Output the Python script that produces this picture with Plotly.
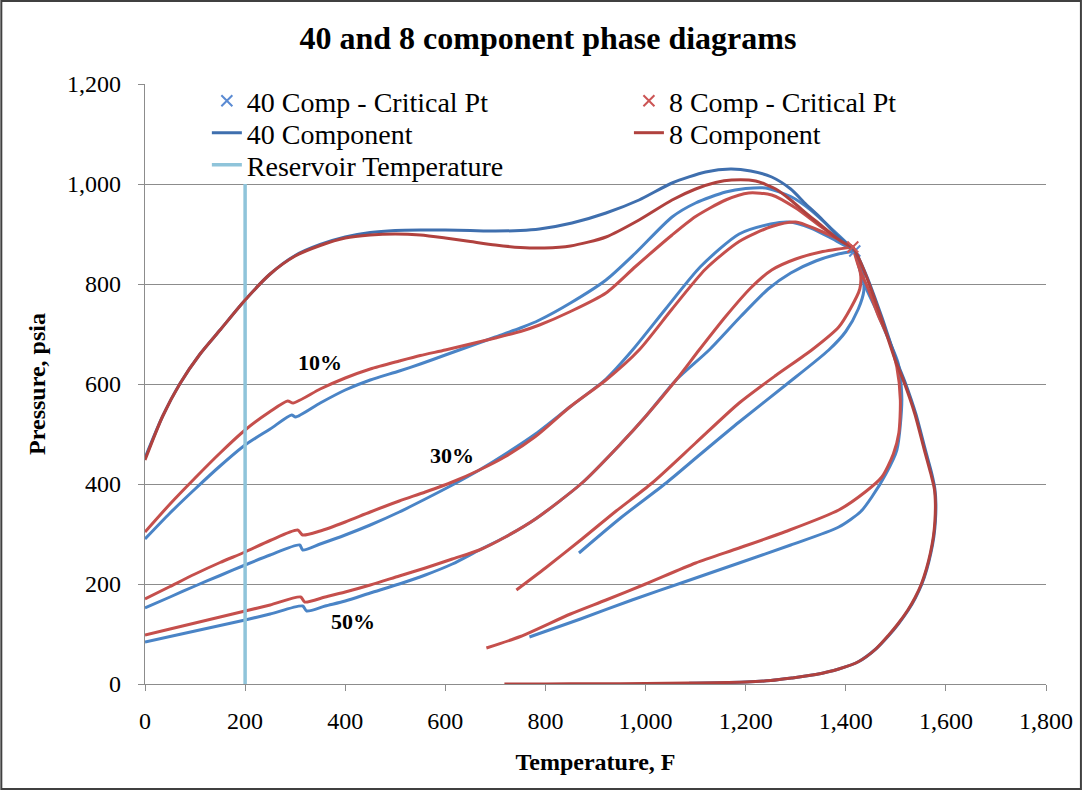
import plotly.graph_objects as go

# ---------------- data (Temperature F, Pressure psia) ----------------
# 40 component phase envelope (bubble + dew)
t40_env = [0, 35, 70, 110, 150, 200, 250, 300, 350, 400, 450, 500, 550, 600, 650, 700, 750, 788, 853,
           921, 987, 1053, 1120, 1170, 1210, 1252, 1290, 1320, 1350, 1380, 1400, 1418,
           1440, 1472, 1500, 1519, 1540, 1559, 1572, 1578, 1580, 1579, 1576, 1570, 1562, 1552, 1539, 1525,
           1505, 1486, 1460, 1426, 1386, 1340, 1292, 1250, 1200, 1150, 1087]
p40_env = [452, 535, 601, 660, 708, 768, 820, 857, 879, 894, 903, 907, 908, 908, 907, 906, 907, 910, 922,
           942, 968, 1002, 1024, 1030, 1026, 1014, 990, 960, 932, 900, 882, 866,
           820, 734, 650, 602, 540, 468, 420, 390, 360, 325, 295, 262, 230, 200, 172, 148,
           120, 97, 70, 45, 30, 19, 12, 7, 4, 2.5, 1.5]

# 8 component phase envelope (bubble + dew)
t8_env = [0, 35, 70, 110, 150, 200, 250, 300, 350, 400, 450, 500, 550, 600, 650, 700, 750, 798, 850,
          921, 987, 1053, 1100, 1140, 1172, 1220, 1260, 1290, 1320, 1350, 1380, 1400, 1414,
          1440, 1470, 1498, 1517, 1538, 1557, 1570, 1577, 1579, 1578, 1575, 1569, 1561, 1551, 1538, 1524,
          1504, 1485, 1460, 1426, 1386, 1340, 1292, 1250, 1200, 1087, 1000, 900, 800, 718]
p8_env = [448, 535, 601, 660, 708, 768, 820, 856, 877, 892, 898, 900, 898, 892, 885, 878, 873, 872, 876,
          894, 928, 968, 990, 1003, 1008, 1006, 990, 968, 942, 918, 893, 880, 874,
          818, 734, 650, 602, 540, 468, 420, 390, 360, 325, 295, 262, 230, 200, 172, 148,
          120, 97, 70, 45, 30, 19, 12, 7, 4, 2, 1, 0.5, 0.2, 0]

# 10 % quality lines
t40_q10 = [0, 50, 100, 150, 200, 250, 293, 301, 350, 400, 450, 508, 550, 600, 650, 700, 750, 788, 850,
           921, 980, 1053, 1100, 1160, 1200, 1240, 1290, 1330, 1370, 1400, 1418]
p40_q10 = [290, 342, 390, 436, 478, 510, 538, 534, 562, 588, 608, 626, 640, 658, 676, 694, 712, 728, 762,
           808, 862, 934, 962, 984, 991, 992, 975, 948, 912, 884, 866]
t8_q10 = [0, 50, 100, 150, 200, 250, 285, 296, 350, 400, 450, 508, 550, 600, 650, 700, 750, 788, 850,
          921, 980, 1053, 1100, 1160, 1206, 1252, 1300, 1350, 1390, 1414]
p8_q10 = [304, 360, 412, 462, 508, 545, 566, 562, 590, 612, 630, 646, 657, 668, 680, 692, 705, 718, 745,
          782, 835, 898, 935, 968, 982, 978, 952, 915, 888, 874]

# 30 % quality lines
t40_q30 = [0, 50, 100, 150, 200, 250, 309, 315, 350, 400, 450, 508, 560, 614, 668, 720, 780, 850,
           921, 974, 1040, 1110, 1187, 1250, 1286, 1330, 1370, 1418]
p40_q30 = [152, 174, 196, 217, 238, 258, 278, 268, 280, 298, 318, 344, 370, 398, 428, 460, 500, 555,
           610, 668, 750, 835, 900, 920, 924, 912, 892, 866]
t8_q30 = [0, 50, 100, 150, 200, 250, 305, 315, 350, 400, 450, 508, 560, 614, 668, 720, 780, 850,
          921, 987, 1053, 1120, 1187, 1252, 1300, 1340, 1380, 1414]
p8_q30 = [170, 195, 220, 243, 264, 287, 308, 298, 306, 324, 344, 366, 384, 404, 428, 455, 495, 555,
          608, 668, 750, 830, 885, 915, 924, 910, 892, 874]

# 50 % quality lines
t40_q50 = [0, 50, 100, 150, 200, 250, 315, 323, 360, 400, 450, 508, 560, 614, 668, 720, 780, 873,
           950, 1000, 1061, 1127, 1190, 1245, 1290, 1340, 1385, 1418]
p40_q50 = [84, 95, 106, 117, 128, 140, 156, 146, 156, 166, 182, 200, 218, 240, 268, 294, 330, 402,
           480, 535, 608, 668, 735, 790, 822, 846, 860, 866]
t8_q50 = [0, 50, 100, 150, 200, 250, 311, 319, 360, 400, 450, 508, 560, 614, 668, 720, 780, 873,
          950, 1000, 1061, 1107, 1160, 1210, 1252, 1300, 1350, 1414]
p8_q50 = [98, 110, 122, 134, 146, 158, 174, 164, 174, 184, 198, 216, 232, 250, 268, 294, 330, 402,
          480, 535, 608, 668, 735, 792, 828, 850, 864, 874]

# dew-side quality lines
t40_r1 = [867, 950, 1041, 1110, 1187, 1280, 1366, 1400, 1425, 1436, 1433, 1418]
p40_r1 = [262, 332, 402, 460, 524, 598, 668, 705, 750, 786, 830, 866]
t8_r1 = [742, 800, 873, 940, 1013, 1100, 1187, 1260, 1332, 1386, 1410, 1428, 1430, 1424, 1414]
p8_r1 = [188, 232, 290, 345, 402, 482, 562, 617, 668, 714, 752, 790, 815, 845, 874]

t40_r2 = [768, 870, 973, 1080, 1187, 1290, 1386, 1430, 1452, 1480, 1502, 1512, 1505, 1480, 1460, 1436, 1418]
p40_r2 = [94, 130, 168, 205, 242, 278, 314, 345, 374, 420, 468, 568, 640, 702, 750, 802, 866]
t8_r2 = [682, 750, 850, 921, 1000, 1100, 1187, 1280, 1386, 1440, 1472, 1495, 1506, 1509, 1502, 1486, 1466, 1445, 1426, 1414]
p8_r2 = [72, 95, 140, 168, 200, 242, 272, 305, 348, 385, 414, 460, 502, 568, 634, 690, 734, 790, 834, 874]

# critical points
crit40_t = [1418]
crit40_p = [866]
crit8_t = [1414]
crit8_p = [874]

# reservoir temperature
res_t = [200, 200]
res_p = [0, 1000]

# quality labels
label_text = ["10%", "30%", "50%"]
label_t = [349, 614, 415]
label_p = [644, 458, 126]

# ---------------- styling ----------------
FONT = "Liberation Serif"
BLUE_ENV = "#3F6FAE"
BLUE_Q = "#4A84C6"
RED_ENV = "#B0413E"
RED_Q = "#C54F4C"
BLUE_X = "#5B8BD3"
RED_X = "#CC5555"
RES_C = "#8FC4DA"
LW = 3

L, R, T, B = 145, 37, 84, 107
W, H = 1085, 791
pw, ph = W - L - R, H - T - B

fig = go.Figure()

def curve(t, p, color, name=None, show=False, legend="legend"):
    fig.add_trace(go.Scatter(
        x=t, y=p, mode="lines", name=name, showlegend=show, legend=legend,
        line=dict(color=color, width=LW, shape="spline", smoothing=0.7),
        hoverinfo="skip"))

# 40 component quality lines
curve(t40_q10, p40_q10, BLUE_Q)
curve(t40_q30, p40_q30, BLUE_Q)
curve(t40_q50, p40_q50, BLUE_Q)
curve(t40_r1, p40_r1, BLUE_Q)
curve(t40_r2, p40_r2, BLUE_Q)
# 8 component quality lines
curve(t8_q10, p8_q10, RED_Q)
curve(t8_q30, p8_q30, RED_Q)
curve(t8_q50, p8_q50, RED_Q)
curve(t8_r1, p8_r1, RED_Q)
curve(t8_r2, p8_r2, RED_Q)

# envelopes and legend entries (each entry in its own positioned legend)
fig.add_trace(go.Scatter(
    x=crit40_t, y=crit40_p, mode="markers", name="40 Comp - Critical Pt", legend="legend",
    marker=dict(symbol="x-thin", size=11, line=dict(color=BLUE_X, width=2), color=BLUE_X)))
curve(t40_env, p40_env, BLUE_ENV, name="40 Component", show=True, legend="legend2")
fig.add_trace(go.Scatter(
    x=res_t, y=res_p, mode="lines", name="Reservoir Temperature", legend="legend3",
    line=dict(color=RES_C, width=3.5)))
curve(t8_env, p8_env, RED_ENV, name="8 Component", show=True, legend="legend5")
fig.add_trace(go.Scatter(
    x=crit8_t, y=crit8_p, mode="markers", name="8 Comp - Critical Pt", legend="legend4",
    marker=dict(symbol="x-thin", size=11, line=dict(color=RED_X, width=2), color=RED_X)))

for txt, t, p in zip(label_text, label_t, label_p):
    fig.add_annotation(x=t, y=p, text="<b>%s</b>" % txt, showarrow=False,
                       font=dict(family=FONT, size=22, color="black"))

# outer frame
fig.add_shape(type="rect", xref="paper", yref="paper",
              x0=(1 - L) / pw, x1=(W - 2 - L) / pw,
              y0=(2 - B) / ph, y1=(H - B - 1) / ph,
              line=dict(color="#404040", width=2), layer="below")

def leg(px_x, px_y):
    return dict(x=(px_x - L) / pw, y=(H - B - px_y) / ph, xanchor="left", yanchor="middle",
                bgcolor="rgba(0,0,0,0)", font=dict(family=FONT, size=28, color="black"),
                itemwidth=30, borderwidth=0)

fig.update_layout(
    width=W, height=H,
    margin=dict(l=L, r=R, t=T, b=B),
    paper_bgcolor="white", plot_bgcolor="white",
    font=dict(family=FONT, color="black"),
    title=dict(text="<b>40 and 8 component phase diagrams</b>", x=0.505, xanchor="center",
               y=(H - 38) / H, yanchor="middle", yref="container",
               font=dict(family=FONT, size=32, color="black")),
    legend=leg(207, 101),
    legend2=leg(207, 133),
    legend3=leg(207, 165),
    legend4=leg(630, 101),
    legend5=leg(630, 133),
    showlegend=True,
)

fig.update_xaxes(
    range=[0, 1800], dtick=200, tick0=0, tickformat=",d",
    showgrid=False, zeroline=False,
    showline=True, linecolor="#8C8C8C", linewidth=1.3,
    ticks="outside", ticklen=6, tickcolor="#8C8C8C", tickwidth=1.3,
    ticklabelstandoff=9,
    tickfont=dict(family=FONT, size=24, color="black"),
    title=dict(text="<b>Temperature, F</b>", font=dict(family=FONT, size=24, color="black"), standoff=20),
)
fig.update_yaxes(
    range=[0, 1200], dtick=200, tick0=0, tickformat=",d",
    showgrid=True, gridcolor="#8C8C8C", gridwidth=1.3, zeroline=False,
    showline=True, linecolor="#8C8C8C", linewidth=1.3,
    ticks="outside", ticklen=6, tickcolor="#8C8C8C", tickwidth=1.3,
    ticklabelstandoff=12,
    tickfont=dict(family=FONT, size=24, color="black"),
    title=dict(text="<b>Pressure, psia</b>", font=dict(family=FONT, size=24, color="black"), standoff=14),
)

fig.write_html("out.html")
